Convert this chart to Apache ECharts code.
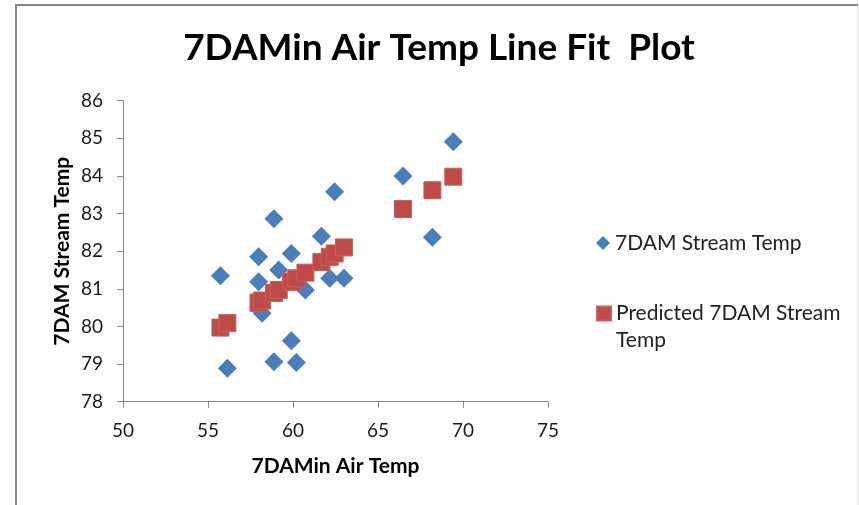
<!DOCTYPE html>
<html>
<head>
<meta charset="utf-8">
<script src="https://cdn.jsdelivr.net/npm/echarts@6/dist/echarts.min.js"></script>
<style>
html,body{margin:0;padding:0;background:#fff;}
#chart{width:859px;height:505px;}
</style>
</head>
<body>
<div id="chart"></div>
<script>
// Data
var airTemp = [55.73, 56.14, 57.98, 57.98, 58.18, 58.88, 58.88, 59.16, 59.90, 59.90, 60.20, 60.73, 61.67, 62.16, 62.45, 63.00, 66.47, 68.20, 69.43];
var streamTemp = [81.35, 78.89, 81.85, 81.19, 80.35, 82.86, 79.06, 81.50, 81.94, 79.62, 79.04, 80.97, 82.40, 81.28, 83.58, 81.28, 84.00, 82.37, 84.91];
var predictedTemp = [79.97, 80.09, 80.63, 80.63, 80.69, 80.89, 80.89, 80.97, 81.19, 81.19, 81.28, 81.43, 81.71, 81.85, 81.94, 82.10, 83.12, 83.62, 83.98];
var seriesNames = ['7DAM Stream Temp', 'Predicted 7DAM Stream Temp'];
var titleText = '7DAMin Air Temp Line Fit  Plot';
var xAxisTitle = '7DAMin Air Temp';
var yAxisTitle = '7DAM Stream Temp';

function pairs(xs, ys) {
  return xs.map(function (x, i) { return [x, ys[i]]; });
}

var FONT = 'Lato, "Open Sans", sans-serif';
var chart = echarts.init(document.getElementById('chart'), null, {renderer: 'canvas'});
chart.setOption({
  backgroundColor: '#fff',
  animation: false,
  title: {
    text: titleText,
    left: 439,
    textAlign: 'center',
    top: 30,
    padding: 0,
    textStyle: {fontFamily: FONT, fontWeight: 'bold', fontSize: 37, color: '#000'}
  },
  graphic: [
    {type: 'line', shape: {x1: 15, y1: 5, x2: 858, y2: 5}, style: {stroke: '#878787', lineWidth: 2}},
    {type: 'line', shape: {x1: 16, y1: 4, x2: 16, y2: 505}, style: {stroke: '#878787', lineWidth: 2}},
    {type: 'line', shape: {x1: 858, y1: 6, x2: 858, y2: 505}, style: {stroke: '#d9d9d9', lineWidth: 1}}
  ],
  legend: [
    {
      data: [{name: seriesNames[0], icon: 'diamond'}],
      orient: 'vertical', left: 596, top: 230, padding: 0,
      itemWidth: 14, itemHeight: 14,
      textStyle: {fontFamily: FONT, fontSize: 21, color: '#222', lineHeight: 26}
    },
    {
      data: [{name: seriesNames[1], icon: 'rect'}],
      orient: 'vertical', left: 596, top: 273, padding: 0,
      itemWidth: 14, itemHeight: 14,
      formatter: function () { return '\nPredicted 7DAM Stream\nTemp'; },
      textStyle: {fontFamily: FONT, fontSize: 21, color: '#222', lineHeight: 27}
    }
  ],
  grid: {left: 123, right: 311, top: 100.7, bottom: 103.3, containLabel: false},
  xAxis: {
    type: 'value', min: 50, max: 75, interval: 5,
    name: xAxisTitle, nameLocation: 'middle', nameGap: 54,
    nameTextStyle: {fontFamily: FONT, fontWeight: 'bold', fontSize: 21, color: '#000'},
    axisLine: {show: true, lineStyle: {color: '#868686', width: 1}},
    axisTick: {show: true, length: 6, lineStyle: {color: '#868686'}},
    axisLabel: {margin: 20, fontFamily: FONT, fontSize: 19, color: '#1a1a1a'},
    splitLine: {show: false}
  },
  yAxis: {
    type: 'value', min: 78, max: 86, interval: 1,
    name: yAxisTitle, nameLocation: 'middle', nameGap: 50, nameRotate: 90,
    nameTextStyle: {fontFamily: FONT, fontWeight: 'bold', fontSize: 21, color: '#000'},
    axisLine: {show: true, lineStyle: {color: '#868686', width: 1}},
    axisTick: {show: true, length: 6, lineStyle: {color: '#868686'}},
    axisLabel: {margin: 20, fontFamily: FONT, fontSize: 19, color: '#1a1a1a'},
    splitLine: {show: false}
  },
  series: [
    {
      name: seriesNames[0], type: 'scatter', symbol: 'diamond', symbolSize: 19,
      itemStyle: {color: '#4A7EBB', opacity: 1},
      data: pairs(airTemp, streamTemp), z: 2
    },
    {
      name: seriesNames[1], type: 'scatter', symbol: 'rect', symbolSize: 17,
      itemStyle: {color: '#BE4B48', borderColor: '#C9605D', borderWidth: 1, opacity: 1},
      data: pairs(airTemp, predictedTemp), z: 3
    }
  ]
});
</script>
</body>
</html>
